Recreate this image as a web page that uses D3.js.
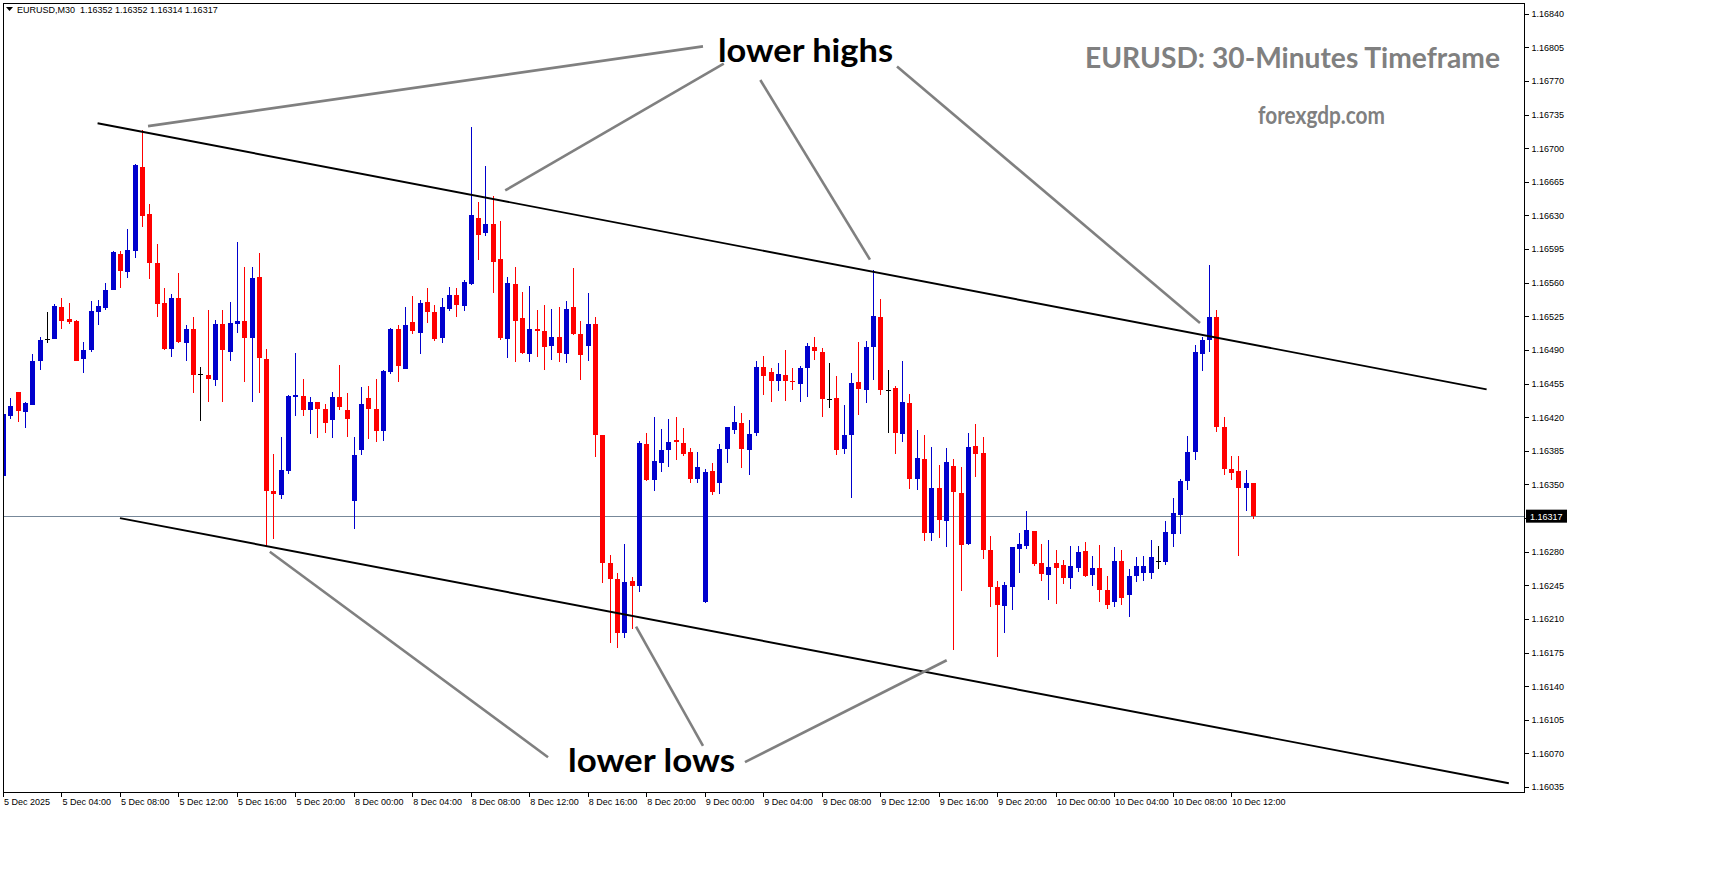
<!DOCTYPE html>
<html><head><meta charset="utf-8">
<script src="https://cdn.jsdelivr.net/npm/d3@7"></script>
<style>body{margin:0;background:#fff}svg{display:block}</style>
</head><body>
<svg id="c" width="1714" height="888"></svg>
<script>
// ---- data (30-minute bars, bar 0 = 5 Dec 2025 00:00) ----
const opens=[1.16359,1.16421,1.16446,1.16425,1.16433,1.16478,1.16501,1.16501,1.16535,1.16522,
1.16520,1.16481,1.16490,1.16529,1.16534,1.16552,1.16590,1.16571,1.16593,1.16680,
1.16632,1.16581,1.16539,1.16491,1.16544,1.16497,1.16512,1.16465,1.16464,1.16459,
1.16517,1.16488,1.16517,1.16520,1.16502,1.16566,1.16481,1.16343,1.16339,1.16364,
1.16441,1.16442,1.16428,1.16436,1.16429,1.16417,1.16441,1.16428,1.16333,1.16386,
1.16440,1.16429,1.16406,1.16467,1.16512,1.16470,1.16519,1.16508,1.16540,1.16529,
1.16502,1.16533,1.16547,1.16536,1.16559,1.16627,1.16612,1.16621,1.16585,1.16501,
1.16559,1.16523,1.16486,1.16512,1.16510,1.16494,1.16503,1.16486,1.16535,1.16507,
1.16494,1.16517,1.16402,1.16268,1.16252,1.16195,1.16250,1.16244,1.16392,1.16355,
1.16372,1.16386,1.16396,1.16393,1.16384,1.16356,1.16228,1.16364,1.16352,1.16387,
1.16407,1.16414,1.16386,1.16404,1.16472,1.16467,1.16458,1.16464,1.16458,1.16455,
1.16471,1.16493,1.16488,1.16439,1.16440,1.16387,1.16402,1.16457,1.16448,1.16493,
1.16524,1.16448,1.16450,1.16403,1.16435,1.16356,1.16377,1.16300,1.16346,1.16312,
1.16369,1.16341,1.16288,1.16390,1.16383,1.16282,1.16243,1.16224,1.16243,1.16283,
1.16286,1.16302,1.16268,1.16256,1.16268,1.16266,1.16253,1.16263,1.16281,1.16256,
1.16263,1.16240,1.16228,1.16270,1.16235,1.16255,1.16258,1.16258,1.16270,1.16269,
1.16298,1.16318,1.16354,1.16384,1.16486,1.16500,1.16524,1.16410,1.16366,1.16364,
1.16346,1.16352];
const highs=[1.16425,1.16440,1.16446,1.16436,1.16486,1.16504,1.16530,1.16538,1.16544,1.16539,
1.16521,1.16498,1.16541,1.16542,1.16560,1.16593,1.16593,1.16616,1.16684,1.16719,
1.16642,1.16600,1.16554,1.16548,1.16570,1.16516,1.16524,1.16472,1.16532,1.16521,
1.16532,1.16540,1.16602,1.16576,1.16576,1.16591,1.16491,1.16382,1.16399,1.16443,
1.16487,1.16460,1.16441,1.16436,1.16434,1.16446,1.16474,1.16445,1.16399,1.16451,
1.16452,1.16460,1.16469,1.16513,1.16516,1.16535,1.16546,1.16542,1.16555,1.16537,
1.16544,1.16556,1.16555,1.16563,1.16722,1.16644,1.16681,1.16650,1.16624,1.16566,
1.16576,1.16550,1.16557,1.16532,1.16537,1.16533,1.16535,1.16541,1.16575,1.16520,
1.16549,1.16524,1.16402,1.16277,1.16258,1.16288,1.16254,1.16395,1.16404,1.16420,
1.16408,1.16418,1.16420,1.16409,1.16388,1.16384,1.16366,1.16372,1.16392,1.16410,
1.16432,1.16424,1.16417,1.16478,1.16484,1.16471,1.16476,1.16490,1.16471,1.16473,
1.16497,1.16504,1.16492,1.16476,1.16463,1.16433,1.16466,1.16498,1.16499,1.16573,
1.16543,1.16469,1.16453,1.16478,1.16444,1.16407,1.16401,1.16389,1.16370,1.16388,
1.16376,1.16368,1.16404,1.16413,1.16399,1.16296,1.16250,1.16249,1.16285,1.16300,
1.16322,1.16302,1.16288,1.16292,1.16282,1.16271,1.16286,1.16286,1.16290,1.16276,
1.16287,1.16255,1.16285,1.16282,1.16262,1.16275,1.16276,1.16292,1.16286,1.16312,
1.16336,1.16356,1.16400,1.16495,1.16504,1.16578,1.16532,1.16420,1.16380,1.16380,
1.16365,1.16352];
const lows=[1.16356,1.16418,1.16415,1.16409,1.16433,1.16469,1.16497,1.16501,1.16512,1.16517,
1.16478,1.16466,1.16488,1.16516,1.16532,1.16552,1.16554,1.16565,1.16586,1.16618,
1.16564,1.16524,1.16490,1.16483,1.16497,1.16479,1.16445,1.16416,1.16436,1.16453,
1.16436,1.16479,1.16508,1.16457,1.16436,1.16445,1.16285,1.16293,1.16335,1.16361,
1.16421,1.16421,1.16403,1.16398,1.16404,1.16398,1.16428,1.16399,1.16304,1.16381,
1.16397,1.16394,1.16395,1.16465,1.16457,1.16470,1.16507,1.16486,1.16518,1.16499,
1.16497,1.16531,1.16524,1.16531,1.16558,1.16584,1.16609,1.16549,1.16500,1.16482,
1.16477,1.16486,1.16477,1.16483,1.16469,1.16480,1.16477,1.16476,1.16506,1.16459,
1.16478,1.16379,1.16247,1.16185,1.16180,1.16190,1.16200,1.16238,1.16354,1.16343,
1.16363,1.16368,1.16375,1.16380,1.16352,1.16352,1.16227,1.16339,1.16340,1.16372,
1.16403,1.16367,1.16360,1.16400,1.16443,1.16436,1.16447,1.16437,1.16448,1.16436,
1.16441,1.16480,1.16420,1.16430,1.16381,1.16382,1.16336,1.16422,1.16435,1.16459,
1.16443,1.16404,1.16382,1.16394,1.16345,1.16344,1.16291,1.16291,1.16294,1.16285,
1.16178,1.16239,1.16287,1.16358,1.16272,1.16222,1.16170,1.16195,1.16219,1.16258,
1.16283,1.16265,1.16250,1.16230,1.16226,1.16246,1.16241,1.16259,1.16254,1.16244,
1.16228,1.16220,1.16222,1.16225,1.16212,1.16248,1.16250,1.16252,1.16262,1.16266,
1.16285,1.16298,1.16344,1.16375,1.16468,1.16488,1.16405,1.16360,1.16355,1.16276,
1.16322,1.16314];
const closes=[1.16423,1.16432,1.16426,1.16435,1.16479,1.16500,1.16501,1.16536,1.16520,1.16519,
1.16479,1.16490,1.16531,1.16536,1.16552,1.16592,1.16572,1.16594,1.16682,1.16629,
1.16581,1.16538,1.16491,1.16544,1.16498,1.16512,1.16464,1.16465,1.16460,1.16517,
1.16490,1.16518,1.16520,1.16502,1.16565,1.16482,1.16343,1.16340,1.16365,1.16442,
1.16443,1.16428,1.16436,1.16429,1.16414,1.16441,1.16431,1.16418,1.16381,1.16434,
1.16429,1.16406,1.16468,1.16512,1.16473,1.16516,1.16510,1.16539,1.16529,1.16501,
1.16535,1.16547,1.16537,1.16561,1.16630,1.16610,1.16621,1.16582,1.16502,1.16560,
1.16520,1.16487,1.16512,1.16510,1.16493,1.16504,1.16487,1.16533,1.16507,1.16485,
1.16517,1.16401,1.16268,1.16252,1.16195,1.16249,1.16244,1.16393,1.16355,1.16374,
1.16386,1.16394,1.16394,1.16382,1.16356,1.16368,1.16363,1.16342,1.16387,1.16410,
1.16415,1.16387,1.16403,1.16472,1.16463,1.16458,1.16465,1.16458,1.16457,1.16471,
1.16494,1.16489,1.16439,1.16439,1.16386,1.16401,1.16456,1.16449,1.16493,1.16525,
1.16448,1.16448,1.16404,1.16436,1.16356,1.16378,1.16299,1.16346,1.16313,1.16373,
1.16342,1.16287,1.16389,1.16382,1.16282,1.16243,1.16225,1.16245,1.16285,1.16288,
1.16303,1.16267,1.16257,1.16264,1.16263,1.16253,1.16265,1.16280,1.16255,1.16263,
1.16240,1.16225,1.16270,1.16232,1.16255,1.16265,1.16265,1.16275,1.16270,1.16301,
1.16320,1.16354,1.16384,1.16488,1.16500,1.16524,1.16410,1.16366,1.16362,1.16346,
1.16352,1.16317];

const timeLabels=["5 Dec 2025","5 Dec 04:00","5 Dec 08:00","5 Dec 12:00","5 Dec 16:00","5 Dec 20:00",
"8 Dec 00:00","8 Dec 04:00","8 Dec 08:00","8 Dec 12:00","8 Dec 16:00","8 Dec 20:00",
"9 Dec 00:00","9 Dec 04:00","9 Dec 08:00","9 Dec 12:00","9 Dec 16:00","9 Dec 20:00",
"10 Dec 00:00","10 Dec 04:00","10 Dec 08:00","10 Dec 12:00"];
const barsPerLabel=8;
const priceTicks=[1.16840,1.16805,1.16770,1.16735,1.16700,1.16665,1.16630,1.16595,1.16560,1.16525,
1.16490,1.16455,1.16420,1.16385,1.16350,1.16315,1.16280,1.16245,1.16210,1.16175,1.16140,1.16105,1.16070,1.16035];
const currentPrice=1.16317;
const headerText="EURUSD,M30  1.16352 1.16352 1.16314 1.16317";

// channel lines: [barIndex, price]
const upperChannel=[[12.94,1.16726],[202.96,1.16449]];
const lowerChannel=[[16.0,1.16315],[206.0,1.16039]];
// pointer lines: [[bar,price],[bar,price]]
const highPointers=[[[95.76,1.16806],[19.84,1.16723]],[[98.6,1.16788],[68.7,1.16656]],
  [[103.6,1.16771],[118.6,1.16584]],[[122.3,1.16785],[163.75,1.16518]]];
const lowPointers=[[[74.56,1.16066],[36.5,1.16280]],[[95.76,1.16078],[86.6,1.16202]],
  [[101.5,1.16061],[129.1,1.16167]]];

// ---- drawing ----
const svg=d3.select("#c");
const L=3,R=1524,T=3,B=792;
const x=d3.scaleLinear().domain([0,171]).range([3.0,1253.0]);
const y=d3.scaleLinear().domain([1.16035,1.16840]).range([787.1,13.7]);
const n=closes.length;
const bars=d3.range(n).map(i=>({i,o:opens[i],h:highs[i],l:lows[i],c:closes[i]}));

svg.append("rect").attr("width",1714).attr("height",888).attr("fill","#fff");
svg.append("defs").append("clipPath").attr("id","clip").append("rect")
  .attr("x",L).attr("y",T).attr("width",R-L).attr("height",B-T);

const plot=svg.append("g").attr("clip-path","url(#clip)");

// current price line
plot.append("line").attr("x1",L).attr("x2",R).attr("y1",Math.round(y(currentPrice))+0.5).attr("y2",Math.round(y(currentPrice))+0.5)
  .attr("stroke","#778899").attr("stroke-width",1);

const col=d=>d.c>d.o?"#0000CD":(d.c<d.o?"#FF0000":"#000000");
const cg=plot.append("g").attr("shape-rendering","crispEdges");
cg.selectAll("line.w").data(bars).join("line").attr("class","w")
  .attr("x1",d=>Math.round(x(d.i))+0.5).attr("x2",d=>Math.round(x(d.i))+0.5)
  .attr("y1",d=>y(d.h)).attr("y2",d=>y(d.l)).attr("stroke",col).attr("stroke-width",1);
cg.selectAll("rect.b").data(bars.filter(d=>d.o!==d.c)).join("rect").attr("class","b")
  .attr("x",d=>Math.round(x(d.i))-2).attr("width",5)
  .attr("y",d=>y(Math.max(d.o,d.c))).attr("height",d=>Math.max(1,Math.abs(y(d.o)-y(d.c))))
  .attr("fill",col);
cg.selectAll("line.dj").data(bars.filter(d=>d.o===d.c)).join("line").attr("class","dj")
  .attr("x1",d=>Math.round(x(d.i))-2).attr("x2",d=>Math.round(x(d.i))+3)
  .attr("y1",d=>Math.round(y(d.o))+0.5).attr("y2",d=>Math.round(y(d.o))+0.5).attr("stroke","#000");

// channel
const line=d3.line().x(d=>x(d[0])).y(d=>y(d[1]));
[upperChannel,lowerChannel].forEach(c=>{
  svg.append("path").attr("d",line(c)).attr("stroke","#000").attr("stroke-width",1.9).attr("fill","none");
});
// pointers
highPointers.concat(lowPointers).forEach(p=>{
  svg.append("path").attr("d",line(p)).attr("stroke","#808080").attr("stroke-width",2.6).attr("fill","none");
});

// frame
svg.append("path").attr("d",`M${L+0.5},${B+0.5}V${T+0.5}H${R+0.5}V${B+0.5}H${L+0.5}`)
  .attr("stroke","#000").attr("fill","none").attr("shape-rendering","crispEdges");

const axFont="'Liberation Sans', Arial, sans-serif";
// right axis
const ya=svg.append("g").attr("transform",`translate(${R+0.5},0)`)
  .call(d3.axisRight(y).tickValues(priceTicks).tickSize(4).tickPadding(3).tickFormat(d3.format(".5f")));
ya.select(".domain").remove();
ya.selectAll("text").attr("font-family",axFont).attr("font-size","9px").attr("fill","#000");
ya.selectAll("line").attr("stroke","#000").attr("shape-rendering","crispEdges");

// bottom axis
const labelIdx=timeLabels.map((t,k)=>k*barsPerLabel);
const xa=svg.append("g").attr("transform",`translate(0,${B+0.5})`)
  .call(d3.axisBottom(x).tickValues(labelIdx).tickSize(4).tickPadding(2).tickFormat((d,k)=>timeLabels[k]));
xa.select(".domain").remove();
xa.selectAll("text").attr("font-family",axFont).attr("font-size","9px").attr("fill","#000")
  .attr("text-anchor","start").attr("dx","0.5");
xa.selectAll("line").attr("stroke","#000").attr("shape-rendering","crispEdges");

// current price tag
const cy=y(currentPrice);
svg.append("rect").attr("x",R+2).attr("y",cy-6.5).attr("width",41).attr("height",13).attr("fill","#000");
svg.append("text").attr("x",R+6).attr("y",cy+3.5).attr("font-family",axFont).attr("font-size","9px")
  .attr("fill","#fff").text(d3.format(".5f")(currentPrice));

// header
svg.append("path").attr("d","M6,7 L13,7 L9.5,11 Z").attr("fill","#000");
svg.append("text").attr("x",17).attr("y",13).attr("font-family",axFont).attr("font-size","9px")
  .attr("fill","#000").attr("xml:space","preserve").style("white-space","pre").text(headerText);

// titles / annotations
const tf="Lato, 'Open Sans', sans-serif";
svg.append("text").attr("x",1085).attr("y",68).attr("font-family",tf).attr("font-weight",700)
  .attr("font-size","29px").attr("fill","#808080").attr("textLength",415).attr("lengthAdjust","spacingAndGlyphs")
  .text("EURUSD: 30-Minutes Timeframe");
svg.append("text").attr("x",1258).attr("y",124).attr("font-family",tf).attr("font-weight",700)
  .attr("font-size","25px").attr("fill","#808080").attr("textLength",127).attr("lengthAdjust","spacingAndGlyphs")
  .text("forexgdp.com");
svg.append("text").attr("x",718).attr("y",62).attr("font-family",tf).attr("font-weight",700)
  .attr("font-size","33px").attr("fill","#000").attr("textLength",175).attr("lengthAdjust","spacingAndGlyphs")
  .text("lower highs");
svg.append("text").attr("x",568).attr("y",772).attr("font-family",tf).attr("font-weight",700)
  .attr("font-size","33px").attr("fill","#000").attr("textLength",167).attr("lengthAdjust","spacingAndGlyphs")
  .text("lower lows");
</script>
</body></html>
